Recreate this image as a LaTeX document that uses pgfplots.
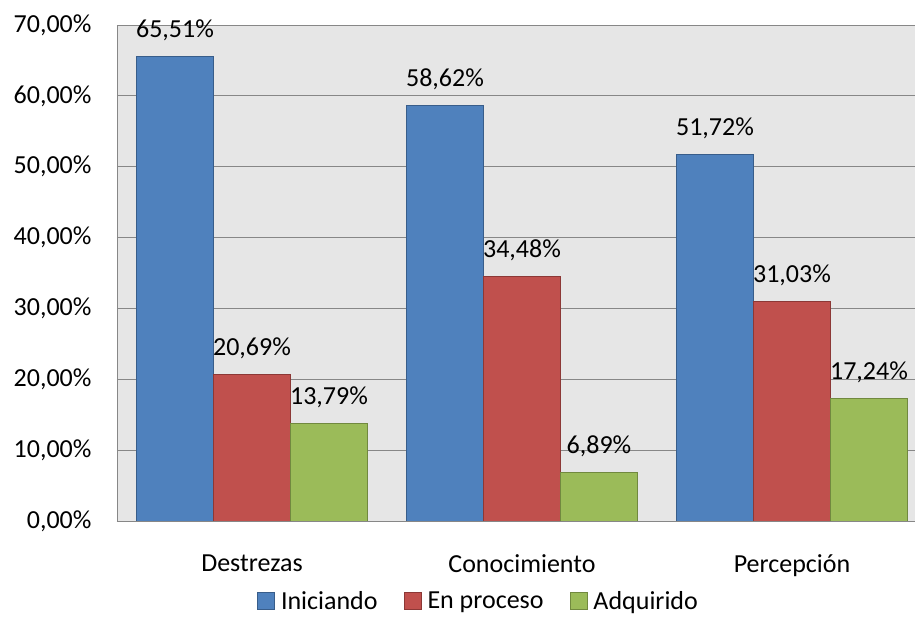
\documentclass[border=0pt]{standalone}
\usepackage{pgfplots}
\pgfplotsset{compat=1.18}
\usepackage{fontspec}
\setmainfont{Carlito}
\definecolor{serA}{HTML}{4F81BD}
\definecolor{serAd}{HTML}{385D8A}
\definecolor{serB}{HTML}{C0504D}
\definecolor{serBd}{HTML}{8C3836}
\definecolor{serC}{HTML}{9BBB59}
\definecolor{serCd}{HTML}{71893F}
\definecolor{plotbg}{HTML}{E6E6E6}
\definecolor{gridc}{HTML}{878787}
\begin{document}
\begin{tikzpicture}
\begin{axis}[
  scale only axis,
  width=810pt, height=496pt,
  ybar=0pt, bar width=77pt,
  xmin=-0.5, xmax=2.5,
  ymin=0, ymax=70,
  xtick=data,
  xticklabels={Destrezas,Conocimiento,Percepción},
  ytick={0,10,...,70},
  yticklabel={\pgfmathprintnumber[fixed,fixed zerofill,precision=2,use comma,assume math mode=true]{\tick}\%},
  major tick length=0pt,
  ymajorgrids, grid style={gridc, line width=0.9pt},
  axis line style={gridc, line width=0.9pt},
  axis background/.style={fill=plotbg},
  tick label style={font=\fontsize{26}{31}\selectfont, black},
  yticklabel style={xshift=-22pt},
  xticklabel style={yshift=-30pt},
  nodes near coords,
  point meta=explicit symbolic,
  every node near coord/.append style={font=\fontsize{26}{31}\selectfont, black, yshift=12pt},
  legend columns=-1,
  legend style={draw=none, fill=none, at={(478.5pt-117pt,-80pt)}, anchor=center,
    font=\fontsize{26}{31}\selectfont,
    /tikz/every odd column/.append style={column sep=4pt},
    /tikz/every even column/.append style={column sep=24pt}},
  legend image code/.code={\draw[#1] (0pt,-8.5pt) rectangle (17pt,8.5pt);},
]
\addplot[fill=serA, draw=serAd, line width=0.9pt] coordinates {(0,65.51) [65,51\%] (1,58.62) [58,62\%] (2,51.72) [51,72\%]};
\addplot[fill=serB, draw=serBd, line width=0.9pt] coordinates {(0,20.69) [20,69\%] (1,34.48) [34,48\%] (2,31.03) [31,03\%]};
\addplot[fill=serC, draw=serCd, line width=0.9pt] coordinates {(0,13.79) [13,79\%] (1,6.89) [6,89\%] (2,17.24) [17,24\%]};
\legend{Iniciando,En proceso,Adquirido}
\coordinate (bl) at (rel axis cs:0,0);
\coordinate (tr) at (rel axis cs:1,1);
\end{axis}
\pgfresetboundingbox
\path[use as bounding box] ([shift={(-117pt,-104pt)}]bl) rectangle ([shift={(-12pt,25pt)}]tr);
\end{tikzpicture}
\end{document}
